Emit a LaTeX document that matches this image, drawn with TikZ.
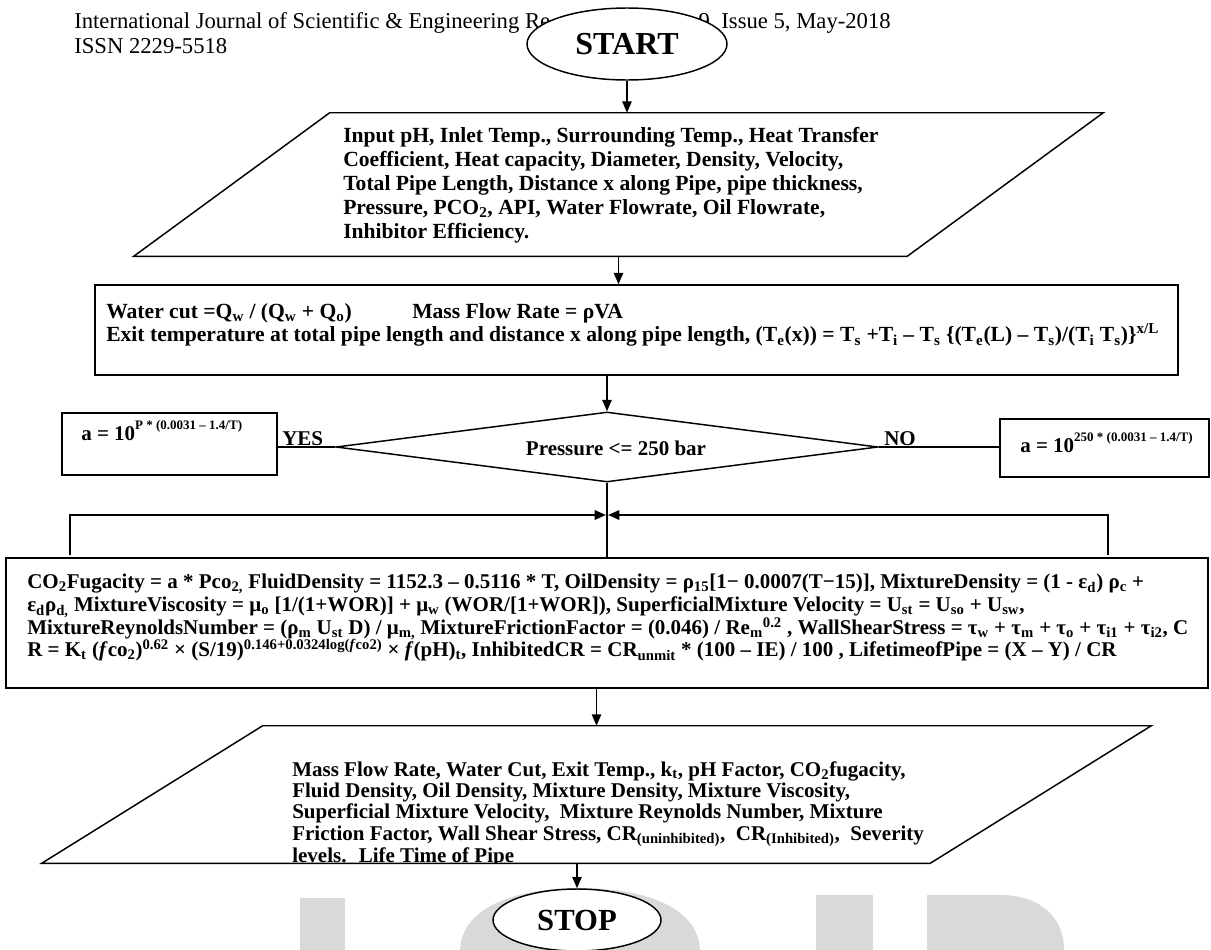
\documentclass[tikz,border=0pt]{standalone}
\usepackage{fontspec}
\setmainfont{Liberation Serif}
\usetikzlibrary{shapes.geometric,arrows.meta,calc,fit}
\newcommand{\sbs}[1]{\textsubscript{#1}}
\newcommand{\sps}[1]{\textsuperscript{#1}}
\newcommand{\smallsup}[1]{\raisebox{0.5em}{\fontsize{9.75}{10}\selectfont #1}}
\begin{document}
\begin{tikzpicture}[x=0.75pt,y=-0.75pt,
  bx/.style={draw, line width=1.1pt},
  ln/.style={line width=1.1pt},
  arr/.style={line width=1.1pt, -{Triangle[length=8.5pt,width=7pt]}},
  bf/.style={inner sep=0pt, align=left},
  body/.style={font=\bfseries\fontsize{15.75}{#1}\selectfont},
  bodyl/.style={font=\bfseries\fontsize{16.2}{#1}\selectfont},
  hdr/.style={inner sep=0pt, font=\fontsize{17}{20}\selectfont},
  wm/.style={fill=black!15, draw=none},
  term/.style={ellipse, draw, line width=1.1pt, fill=white, inner sep=0pt}
]
\useasboundingbox (0,0) rectangle (1211,950);
\fill[white] (0,0) rectangle (1211,950);
% watermark remnants
\fill[wm] (300,898) rectangle (345,950);
\fill[wm] (460,950) .. controls (462,905) and (520,888) .. (580,888) .. controls (640,888) and (698,905) .. (700,950) -- cycle;
\fill[wm] (816,895) rectangle (873,950);
\fill[wm] (927,895) -- (1000,895) .. controls (1040,895) and (1064,917) .. (1064,950) -- (927,950) -- cycle;
% header
\node[hdr, anchor=base west] (hdr1) at (74,28) {International Journal of Scientific \& Engineering Re};
\node[hdr, anchor=base east] (hdr2) at (891,28) {9, Issue 5, May-2018};
\node[hdr, anchor=base west] (issn) at (74,53) {ISSN 2229-5518};
% start
\node[term, minimum width=150pt, minimum height=54pt, font=\bfseries\fontsize{24}{26}\selectfont] (start) at (627,44) {START};
% input
\node[fit={(134,113) (1103,256)}, inner sep=0pt] (input) {};
\draw[bx] ($(input.north west)+(196,0)$) -- (input.north east) -- ($(input.south east)+(-196,0)$) -- (input.south west) -- cycle;
\node[bf, bodyl=18, anchor=north west] (inputtxt) at (343,127) {Input pH, Inlet Temp., Surrounding Temp., Heat Transfer\\
Coefficient, Heat capacity, Diameter, Density, Velocity,\\
Total Pipe Length, Distance x along Pipe, pipe thickness,\\
Pressure, PCO\sbs{2}, API, Water Flowrate, Oil Flowrate,\\
Inhibitor Efficiency.};
\draw[arr] (start.south) -- (start.south |- input.north);
% water box
\node[fit={(95,285) (1178,375)}, inner sep=0pt, bx] (water) {};
\node[bf, bodyl=17.5, anchor=north west] (watertxt) at (106,303) {\makebox[229.5pt][l]{Water cut =Q\sbs{w} / (Q\sbs{w} + Q\sbs{o})}Mass Flow Rate = ρVA\\
Exit temperature at total pipe length and distance x along pipe length, (T\sbs{e}(x)) = T\sbs{s} +T\sbs{i} – T\sbs{s} \{(T\sbs{e}(L) – T\sbs{s})/(T\sbs{i} T\sbs{s})\}\sps{x/L}};
\draw[arr] (input.south) -- (input.south |- water.north);
% decision
\node[diamond, draw, line width=1.1pt, inner sep=0pt, minimum width=406.5pt, minimum height=52.5pt] (dia) at (607,447) {};
\node[bf, body=18] (diatxt) at (616,448) {Pressure <= 250 bar};
\draw[arr] (dia.north |- water.south) -- (dia.north);
\node[fit={(62,413) (277,475)}, inner sep=0pt, bx] (yesbox) {};
\node[bf, body=18, anchor=base west] (yestxt) at (81,440) {a = 10\smallsup{P * (0.0031 – 1.4/T)}};
\node[fit={(1000,419) (1209,477)}, inner sep=0pt, bx] (nobox) {};
\node[bf, body=18, anchor=base west] (notxt) at (1020,452) {a = 10\smallsup{250 * (0.0031 – 1.4/T)}};
\node[bf, body=18, anchor=base west] (yes) at (282,445) {YES};
\node[bf, body=18, anchor=base west] (no) at (884,445) {NO};
\draw[ln] (dia.west) -- (dia.west -| yesbox.east);
\draw[ln] (dia.east) -- (dia.east -| nobox.west);
% big box
\node[fit={(6,558) (1208,688)}, inner sep=0pt, bx] (big) {};
\draw[ln] (dia.south) -- (dia.south |- big.north);
\coordinate (bkL) at (70,555);
\coordinate (bkR) at (1108,555);
\coordinate (bkY) at (0,515);
\draw[arr, line width=1.6pt] (bkL) -- (bkL |- bkY) -- ($(dia.south |- bkY)+(-1,0)$);
\draw[arr, line width=1.6pt] (bkR) -- (bkR |- bkY) -- ($(dia.south |- bkY)+(1,0)$);
\node[bf, body=17, anchor=north west] (bigtxt) at (27,574) {CO\sbs{2}Fugacity = a * Pco\sbs{2,} FluidDensity = 1152.3 – 0.5116 * T, OilDensity = ρ\sbs{15}[1− 0.0007(T−15)], MixtureDensity = (1 - ε\sbs{d}) ρ\sbs{c} +\\
ε\sbs{d}ρ\sbs{d,} MixtureViscosity = μ\sbs{o} [1/(1+WOR)] + μ\sbs{w} (WOR/[1+WOR]), SuperficialMixture Velocity = U\sbs{st} = U\sbs{so} + U\sbs{sw},\\
MixtureReynoldsNumber = (ρ\sbs{m} U\sbs{st} D) / μ\sbs{m,} MixtureFrictionFactor = (0.046) / Re\sbs{m}\sps{0.2} , WallShearStress = τ\sbs{w} + τ\sbs{m} + τ\sbs{o} + τ\sbs{i1} + τ\sbs{i2}, C\\
R = K\sbs{t} (\textit{f}co\sbs{2})\sps{0.62} × (S/19)\sps{0.146+0.0324log(\textit{f}co2)} × \textit{f}(pH)\sbs{t}, InhibitedCR = CR\sbs{unmit} * (100 – IE) / 100 , LifetimeofPipe = (X – Y) / CR};
% output
\node[fit={(42,726) (1151,863)}, inner sep=0pt] (out) {};
\begin{scope}
\clip (out.north west) rectangle (out.south east);
\node[bf, body=16, anchor=north west] (outtxt) at (292,761) {Mass Flow Rate, Water Cut, Exit Temp., k\sbs{t}, pH Factor, CO\sbs{2}fugacity,\\
Fluid Density, Oil Density, Mixture Density, Mixture Viscosity,\\
Superficial Mixture Velocity, \ Mixture Reynolds Number, Mixture\\
Friction Factor, Wall Shear Stress, CR\sbs{(uninhibited)}, \ CR\sbs{(Inhibited)}, \ Severity\\
levels. \ Life Time of Pipe};
\end{scope}
\draw[bx] ($(out.north west)+(221,0)$) -- (out.north east) -- ($(out.south east)+(-221,0)$) -- (out.south west) -- cycle;
\draw[arr] (out.north |- big.south) -- (out.north);
% stop
\node[term, minimum width=126pt, minimum height=46.5pt, font=\bfseries\fontsize{23}{25}\selectfont] (stop) at (577,920) {STOP};
\draw[arr] (stop.north |- out.south) -- (stop.north);
\end{tikzpicture}
\end{document}
